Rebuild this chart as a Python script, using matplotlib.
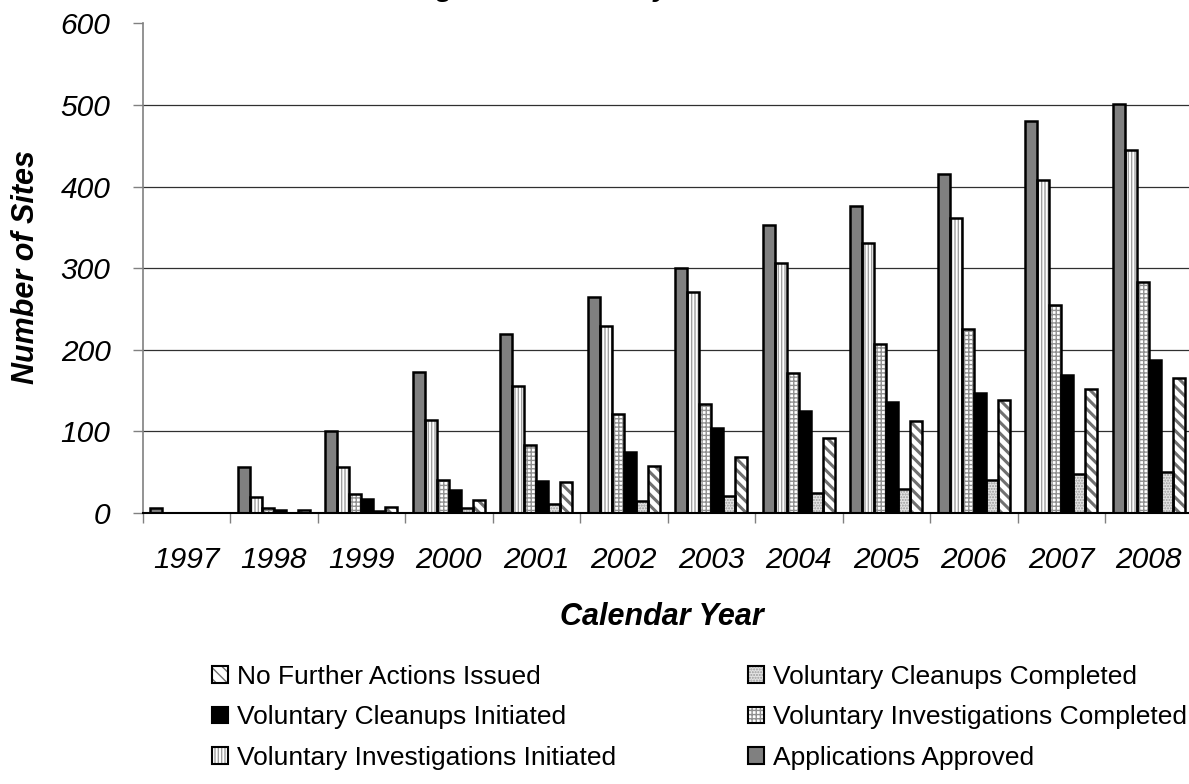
import matplotlib
matplotlib.use('Agg')
import matplotlib.pyplot as plt
from matplotlib.patches import Patch
import numpy as np

plt.rcParams['font.family'] = ['Liberation Sans', 'DejaVu Sans']
plt.rcParams['hatch.linewidth'] = 1.0

years = ['1997', '1998', '1999', '2000', '2001', '2002',
         '2003', '2004', '2005', '2006', '2007', '2008']
approved = [6, 56, 100, 173, 219, 265, 300, 353, 376, 416, 481, 501]
inv_initiated = [0, 20, 56, 114, 156, 229, 271, 306, 331, 361, 408, 445]
inv_completed = [0, 6, 23, 41, 83, 121, 133, 171, 207, 225, 255, 283]
clean_initiated = [0, 4, 17, 28, 39, 75, 104, 125, 136, 147, 169, 187]
clean_completed = [0, 0, 2, 6, 11, 15, 21, 25, 29, 40, 48, 50]
nfa_issued = [0, 4, 7, 16, 38, 58, 69, 92, 113, 139, 152, 166]

# label, values, face, hatch, hatch colour, hatch width
series = [
    ('Applications Approved', approved, '#808080', None, '#808080', 1.0),
    ('Voluntary Investigations Initiated', inv_initiated, 'white', '|||||', '#a0a0a0', 1.0),
    ('Voluntary Investigations Completed', inv_completed, 'white', '++++', '#909090', 1.0),
    ('Voluntary Cleanups Initiated', clean_initiated, 'black', None, 'black', 1.0),
    ('Voluntary Cleanups Completed', clean_completed, '#e4e4e4', '......', '#9a9a9a', 1.0),
    ('No Further Actions Issued', nfa_issued, 'white', '\\\\\\', '#707070', 2.2),
]

fig = plt.figure(figsize=(11.89, 7.84), dpi=100)
ax = fig.add_axes([142.5 / 1189, 271 / 784, 1050 / 1189, 489.6 / 784])

idx = np.arange(len(years))
w = 0.137
handles = {}
for k, (label, vals, face, hatch, hc, hlw) in enumerate(series):
    x = idx + (k - 2.5) * w
    with plt.rc_context({'hatch.linewidth': hlw}):
        ax.bar(x, vals, w, color=face, hatch=hatch, edgecolor=hc,
               linewidth=0, zorder=2)
        p1 = Patch(facecolor=face, hatch=hatch, edgecolor=hc, linewidth=0)
    ax.bar(x, vals, w, facecolor='none', edgecolor='black', linewidth=1.8,
           zorder=3)
    p2 = Patch(facecolor='none', edgecolor='black', linewidth=1.5)
    handles[label] = (p1, p2)

ax.set_xlim(-0.5, len(years) - 0.5)
ax.set_ylim(0, 600)
ax.set_yticks(range(0, 601, 100))
ax.set_yticklabels([str(v) for v in range(0, 601, 100)],
                   fontsize=21.5, style='italic')
ax.set_xticks(idx)
ax.set_xticklabels(years, fontsize=21.5, style='italic')
ax.set_xticks(np.arange(-0.5, len(years), 1.0), minor=True)
ax.tick_params(axis='x', which='major', length=0, pad=24)
ax.tick_params(axis='x', which='minor', length=7, width=1, color='#808080',
               direction='out')
ax.tick_params(axis='y', length=7, width=1, color='#808080', direction='out',
               pad=16)

ax.yaxis.grid(True, color='#303030', linewidth=0.9, zorder=0)
ax.set_axisbelow(True)
ax.get_ygridlines()[-1].set_visible(False)
ax.get_ygridlines()[0].set_visible(False)

for s in ['top', 'right']:
    ax.spines[s].set_visible(False)
ax.spines['left'].set_color('#808080')
ax.spines['left'].set_linewidth(1.2)
ax.spines['bottom'].set_color('black')
ax.spines['bottom'].set_linewidth(1.5)

fig.text(26 / 1189, 1 - 267 / 784, 'Number of Sites', rotation=90,
         ha='center', va='center', fontsize=22, fontweight='bold',
         style='italic')
fig.text(662 / 1189, 1 - 625 / 784, 'Calendar Year', ha='center',
         va='baseline', fontsize=22, fontweight='bold', style='italic')
fig.text(596 / 1189, 1 + 3.5 / 784, 'Figure 1: Voluntary Actions',
         ha='center', va='baseline', fontsize=20.5, fontweight='bold',
         style='italic')

order = ['No Further Actions Issued', 'Voluntary Cleanups Initiated',
         'Voluntary Investigations Initiated', 'Voluntary Cleanups Completed',
         'Voluntary Investigations Completed', 'Applications Approved']
fig.legend([handles[o] for o in order], order, ncol=2, frameon=False,
           loc='upper left', bbox_to_anchor=(212 / 1189, 1 - 665 / 784),
           borderaxespad=0, borderpad=0, fontsize=19, handlelength=0.6,
           handleheight=0.6, handletextpad=0.35, columnspacing=5.0,
           labelspacing=0.62)

fig.savefig('out.png', dpi=100)
